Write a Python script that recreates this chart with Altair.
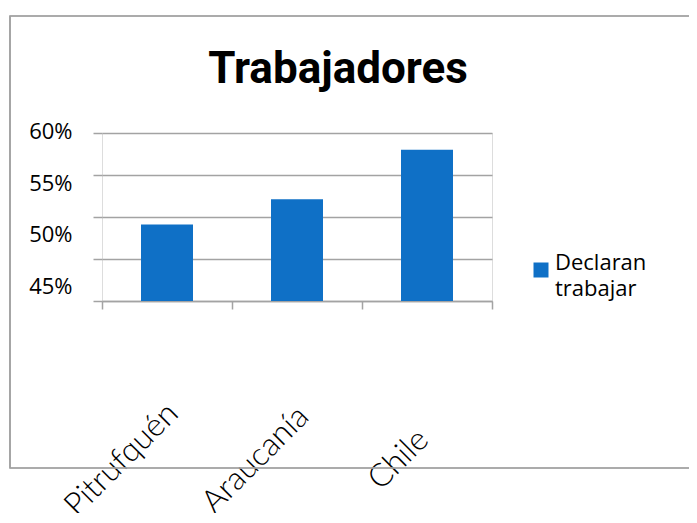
import altair as alt
import pandas as pd

categories = ["Pitrufquén", "Araucanía", "Chile"]
values = [49.1, 52.1, 58.0]
series_name = "Declaran trabajar"
y_ticks = [40, 45, 50, 55, 60]

df = pd.DataFrame({"lugar": categories, "valor": values, "serie": [series_name] * 3})

BLUE = "#0F70C6"
GRAY = "#a3a3a3"

y_label_offset = {
    "condition": [
        {"test": "datum.value == 55", "value": 8},
        {"test": "datum.value == 50", "value": 17.5},
        {"test": "datum.value == 45", "value": 27},
    ],
    "value": -1.5,
}
x_label_offset = {
    "condition": [
        {"test": "datum.value == 'Pitrufquén'", "value": -46},
        {"test": "datum.value == 'Araucanía'", "value": -42},
    ],
    "value": -29,
}

bars = alt.Chart(df).mark_bar(width=alt.RelativeBandSize(0.4), color=BLUE, clip=True).encode(
    x=alt.X(
        "lugar:N",
        sort=categories,
        title=None,
        scale=alt.Scale(paddingInner=0, paddingOuter=0),
        axis=alt.Axis(
            tickBand="extent",
            tickSize=8,
            tickColor=GRAY,
            tickWidth=1.5,
            domainColor=GRAY,
            domainWidth=1.5,
            labelAngle=-45,
            labelAlign="center",
            labelBaseline="middle",
            labelPadding=150,
            labelOffset=x_label_offset,
            labelFont="Lato",
            labelFontWeight=300,
            labelFontSize=32,
            labelColor="#000000",
            labelLimit=400,
            grid=False,
        ),
    ),
    y=alt.Y(
        "valor:Q",
        title=None,
        scale=alt.Scale(domain=[40, 60], nice=False, zero=False),
        axis=alt.Axis(
            values=y_ticks,
            labelExpr="datum.value == 40 ? '' : datum.value + '%'",
            labelOffset=y_label_offset,
            labelFont="Open Sans",
            labelFontSize=22,
            labelColor="#000000",
            labelPadding=21,
            tickSize=9,
            tickColor=GRAY,
            tickWidth=1.5,
            gridColor=GRAY,
            gridWidth=1.5,
            domain=False,
        ),
    ),
    fill=alt.Fill(
        "serie:N",
        scale=alt.Scale(range=[BLUE]),
        legend=alt.Legend(
            title=None,
            orient="none",
            legendX=428,
            legendY=126,
            symbolType="square",
            symbolSize=225,
            symbolStrokeWidth=0,
            labelFont="Open Sans",
            labelFontSize=22,
            labelColor="#000000",
            labelExpr="split(datum.label, ' ')",
            labelBaseline="alphabetic",
            labelOffset=3,
            padding=0,
        ),
    ),
)

frame = alt.Chart(df).mark_rect(filled=False, stroke="#a0a0a0", strokeWidth=1.2).encode(
    x=alt.value(-92), x2=alt.value(600), y=alt.value(-117), y2=alt.value(335)
)

chart = alt.layer(frame, bars).properties(
    width=390,
    height=168,
    autosize=alt.AutoSizeParams(type="none"),
    padding={"left": 94, "top": 125, "right": 197, "bottom": 212},
    title=alt.TitleParams(
        "Trabajadores",
        font="Roboto",
        fontSize=44,
        fontWeight="bold",
        color="#000000",
        anchor="middle",
        frame="group",
        baseline="alphabetic",
        offset=-112,
        dx=41,
    ),
).configure_view(stroke=None).configure(style={"guide-label": {"lineHeight": 26}})

chart.save("out.html", embed_options={"renderer": "svg", "actions": False})
